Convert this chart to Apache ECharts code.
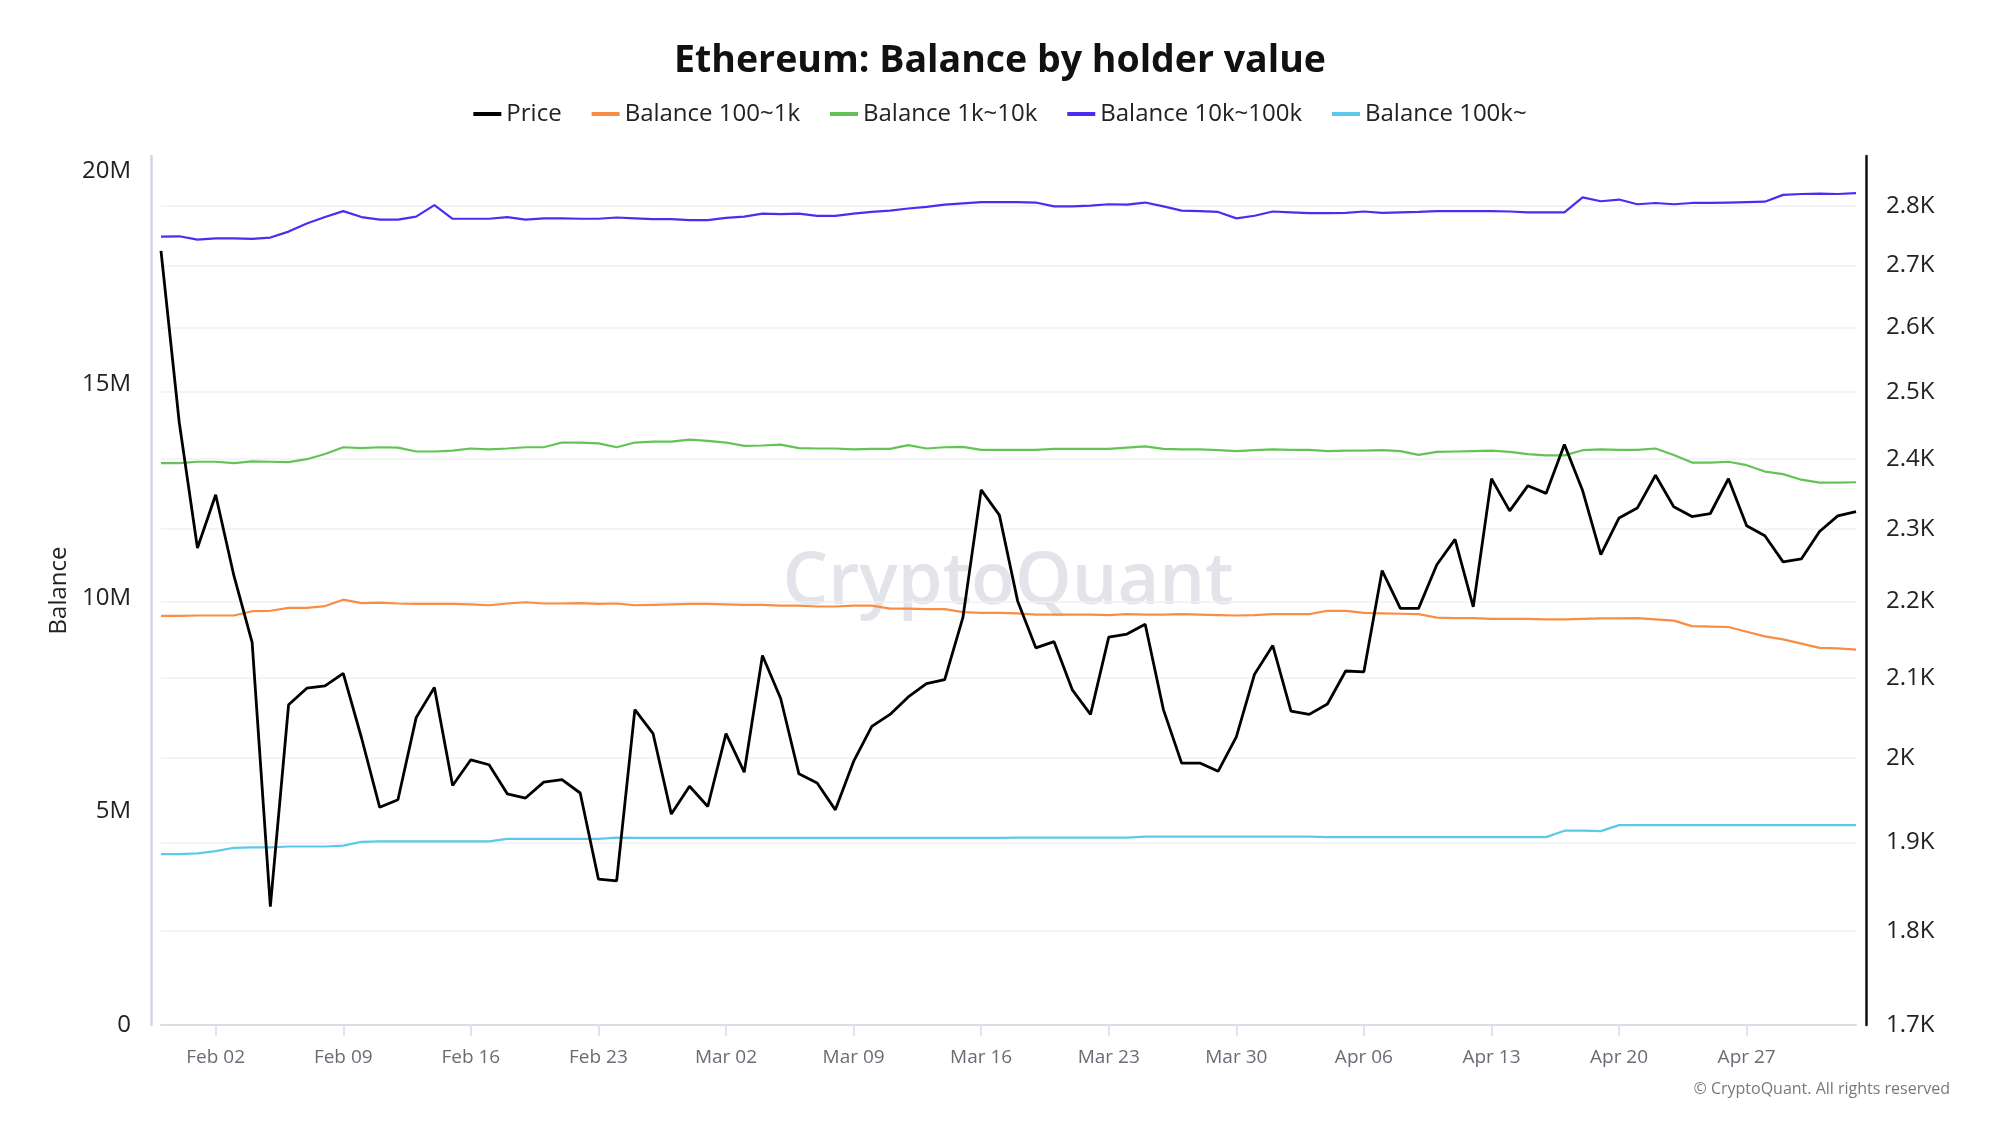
<!DOCTYPE html>
<html>
<head>
<meta charset="utf-8">
<title>Ethereum: Balance by holder value</title>
<script src="https://cdn.jsdelivr.net/npm/echarts@6/dist/echarts.min.js"></script>
<style>
  html, body { margin: 0; padding: 0; background: #fff; }
  #chart { width: 2000px; height: 1125px; }
</style>
</head>
<body>
<div id="chart"></div>
<script>
// daily data, Jan 30 -> May 03
var price = [2724, 2454, 2273, 2348, 2235, 2146, 1827, 2066, 2087, 2090,
  2106, 2025, 1941, 1950, 2050, 2088, 1967, 1998, 1992, 1957,
  1952, 1971, 1974, 1958, 1858, 1856, 2060, 2030, 1933, 1966,
  1942, 2030, 1983, 2129, 2074, 1981, 1970, 1938, 1996, 2039,
  2054, 2076, 2093, 2098, 2179, 2355, 2319, 2201, 2139, 2147,
  2085, 2054, 2153, 2157, 2170, 2060, 1994, 1994, 1984, 2026,
  2105, 2142, 2058, 2054, 2067, 2109, 2108, 2242, 2191, 2191,
  2250, 2285, 2193, 2371, 2325, 2361, 2350, 2421, 2354, 2264,
  2315, 2329, 2376, 2331, 2317, 2321, 2371, 2304, 2290, 2254,
  2258, 2296, 2318, 2324];

// balances in millions
var bal100_1k = [9.58, 9.58, 9.59, 9.59, 9.59, 9.69, 9.70, 9.77, 9.77, 9.81,
  9.96, 9.88, 9.89, 9.87, 9.86, 9.86, 9.86, 9.85, 9.83, 9.87,
  9.90, 9.87, 9.87, 9.88, 9.86, 9.87, 9.83, 9.84, 9.85, 9.86,
  9.86, 9.85, 9.84, 9.84, 9.82, 9.82, 9.80, 9.80, 9.82, 9.82,
  9.75, 9.75, 9.74, 9.74, 9.67, 9.65, 9.65, 9.64, 9.61, 9.61,
  9.61, 9.61, 9.60, 9.62, 9.61, 9.61, 9.62, 9.61, 9.60, 9.59,
  9.60, 9.62, 9.62, 9.62, 9.70, 9.70, 9.65, 9.64, 9.63, 9.62,
  9.54, 9.53, 9.53, 9.51, 9.51, 9.51, 9.50, 9.50, 9.51, 9.52,
  9.52, 9.53, 9.50, 9.47, 9.34, 9.33, 9.32, 9.21, 9.10, 9.03,
  8.93, 8.83, 8.82, 8.79];

var bal1k_10k = [13.16, 13.16, 13.19, 13.19, 13.16, 13.20, 13.19, 13.18, 13.25, 13.37,
  13.53, 13.51, 13.53, 13.52, 13.43, 13.43, 13.45, 13.50, 13.48, 13.50,
  13.53, 13.53, 13.64, 13.64, 13.62, 13.53, 13.64, 13.66, 13.66, 13.71,
  13.68, 13.64, 13.56, 13.57, 13.59, 13.51, 13.50, 13.50, 13.48, 13.49,
  13.49, 13.58, 13.50, 13.53, 13.54, 13.47, 13.47, 13.47, 13.47, 13.49,
  13.49, 13.49, 13.49, 13.52, 13.55, 13.49, 13.48, 13.48, 13.46, 13.44,
  13.46, 13.48, 13.47, 13.47, 13.44, 13.45, 13.45, 13.46, 13.44, 13.35,
  13.42, 13.43, 13.44, 13.45, 13.42, 13.37, 13.34, 13.34, 13.46, 13.48,
  13.47, 13.47, 13.50, 13.35, 13.17, 13.17, 13.19, 13.11, 12.96, 12.90,
  12.77, 12.70, 12.70, 12.71];

var bal10k_100k = [18.46, 18.47, 18.39, 18.42, 18.42, 18.41, 18.44, 18.58, 18.77, 18.92,
  19.06, 18.92, 18.86, 18.86, 18.93, 19.20, 18.88, 18.88, 18.88, 18.92,
  18.86, 18.89, 18.89, 18.88, 18.88, 18.91, 18.89, 18.87, 18.87, 18.85,
  18.85, 18.90, 18.93, 19.00, 18.99, 19.00, 18.95, 18.95, 19.00, 19.04,
  19.07, 19.12, 19.16, 19.21, 19.24, 19.27, 19.27, 19.27, 19.26, 19.17,
  19.17, 19.19, 19.22, 19.21, 19.26, 19.17, 19.07, 19.06, 19.04, 18.89,
  18.95, 19.05, 19.03, 19.01, 19.01, 19.02, 19.05, 19.02, 19.03, 19.04,
  19.06, 19.06, 19.06, 19.06, 19.05, 19.03, 19.03, 19.03, 19.38, 19.29,
  19.33, 19.22, 19.25, 19.22, 19.25, 19.25, 19.26, 19.27, 19.28, 19.44,
  19.46, 19.47, 19.46, 19.48];

var bal100k = [4.00, 4.00, 4.02, 4.07, 4.15, 4.16, 4.16, 4.18, 4.18, 4.18,
  4.20, 4.29, 4.30, 4.30, 4.30, 4.30, 4.30, 4.30, 4.30, 4.36,
  4.36, 4.36, 4.36, 4.36, 4.36, 4.39, 4.38, 4.38, 4.38, 4.38,
  4.38, 4.38, 4.38, 4.38, 4.38, 4.38, 4.38, 4.38, 4.38, 4.38,
  4.38, 4.38, 4.38, 4.38, 4.38, 4.38, 4.38, 4.39, 4.39, 4.39,
  4.39, 4.39, 4.39, 4.39, 4.41, 4.41, 4.41, 4.41, 4.41, 4.41,
  4.41, 4.41, 4.41, 4.41, 4.40, 4.40, 4.40, 4.40, 4.40, 4.40,
  4.40, 4.40, 4.40, 4.40, 4.40, 4.40, 4.40, 4.55, 4.55, 4.54,
  4.68, 4.68, 4.68, 4.68, 4.68, 4.68, 4.68, 4.68, 4.68, 4.68,
  4.68, 4.68, 4.68, 4.68];

var tickDates = ['Feb 02', 'Feb 09', 'Feb 16', 'Feb 23', 'Mar 02', 'Mar 09', 'Mar 16',
  'Mar 23', 'Mar 30', 'Apr 06', 'Apr 13', 'Apr 20', 'Apr 27'];
var balanceTicks = [0, 5, 10, 15, 20];
var priceTicks = [1700, 1800, 1900, 2000, 2100, 2200, 2300, 2400, 2500, 2600, 2700, 2800];

// category labels, one per day starting Jan 30
var monthNames = ['Jan', 'Feb', 'Mar', 'Apr', 'May'];
var dates = [];
var d = new Date(Date.UTC(2025, 0, 30));
while (dates.length < price.length) {
  var day = d.getUTCDate();
  dates.push(monthNames[d.getUTCMonth()] + ' ' + (day < 10 ? '0' + day : day));
  d.setUTCDate(day + 1);
}

var FONT = '"Open Sans", "Noto Sans", sans-serif';

function isTickDate(idx, val) {
  return tickDates.indexOf(val) >= 0;
}

var myChart = echarts.init(document.getElementById('chart'));
var option = {
  animation: false,
  backgroundColor: '#ffffff',
  textStyle: { fontFamily: FONT },
  title: {
    text: 'Ethereum: Balance by holder value',
    left: 'center',
    top: 37,
    textStyle: { fontSize: 37.5, fontWeight: 'bold', color: '#111', fontFamily: FONT }
  },
  legend: {
    top: 97,
    left: 'center',
    icon: 'rect',
    itemWidth: 28,
    itemHeight: 4,
    itemGap: 30,
    textStyle: { fontSize: 24, color: '#222', fontFamily: FONT },
    data: ['Price', 'Balance 100~1k', 'Balance 1k~10k', 'Balance 10k~100k', 'Balance 100k~']
  },
  grid: {
    left: 161,
    right: 144,
    top: 156,
    bottom: 100,
    containLabel: false,
    outerBoundsMode: 'none'
  },
  xAxis: {
    type: 'category',
    boundaryGap: false,
    data: dates,
    axisLine: { lineStyle: { color: '#dcdce6', width: 2 } },
    axisTick: { interval: isTickDate, length: 11, lineStyle: { color: '#e2e2ea', width: 2 } },
    axisLabel: { interval: isTickDate, color: '#6b6b78', fontSize: 19, margin: 23 },
    splitLine: { show: false }
  },
  yAxis: [
    {
      type: 'value',
      position: 'left',
      min: 0,
      max: 20.35,
      offset: 10,
      name: 'Balance',
      nameLocation: 'middle',
      nameGap: 80,
      nameTextStyle: { fontSize: 24, color: '#222' },
      axisLine: { show: true, lineStyle: { color: '#d4d4e4', width: 2.5 } },
      axisTick: { show: false },
      axisLabel: {
        customValues: balanceTicks,
        color: '#222',
        fontSize: 24,
        margin: 20,
        formatter: function (v) { return v === 0 ? '0' : v + 'M'; }
      },
      splitLine: { show: false }
    },
    {
      type: 'log',
      position: 'right',
      min: 1700,
      max: 2886,
      offset: 10,
      axisLine: { show: true, lineStyle: { color: '#111', width: 2.5 } },
      axisTick: { show: false, customValues: priceTicks },
      axisLabel: {
        customValues: priceTicks,
        color: '#222',
        fontSize: 24,
        margin: 20,
        formatter: function (v) { return (v / 1000) + 'K'; }
      },
      splitLine: { show: true, lineStyle: { color: '#f0f0f3', width: 1.5 } }
    }
  ],
  graphic: [
    {
      type: 'text',
      x: 1008,
      y: 583,
      z: 0,
      style: {
        text: 'CryptoQuant',
        fontSize: 72,
        fontWeight: 600,
        fontFamily: FONT,
        fill: '#e3e3ea',
        textAlign: 'center',
        textVerticalAlign: 'middle'
      }
    },
    {
      type: 'text',
      right: 50,
      top: 1081,
      style: {
        text: '\u00a9 CryptoQuant. All rights reserved',
        fontSize: 16,
        fontFamily: FONT,
        fill: '#777782'
      }
    }
  ],
  series: [
    {
      name: 'Price', type: 'line', yAxisIndex: 1, data: price,
      symbol: 'none', z: 5,
      itemStyle: { color: '#000000' },
      lineStyle: { color: '#000000', width: 2.8 }
    },
    {
      name: 'Balance 100~1k', type: 'line', yAxisIndex: 0, data: bal100_1k,
      symbol: 'none',
      itemStyle: { color: '#f98d45' },
      lineStyle: { color: '#f98d45', width: 2.2 }
    },
    {
      name: 'Balance 1k~10k', type: 'line', yAxisIndex: 0, data: bal1k_10k,
      symbol: 'none',
      itemStyle: { color: '#63c455' },
      lineStyle: { color: '#63c455', width: 2.2 }
    },
    {
      name: 'Balance 10k~100k', type: 'line', yAxisIndex: 0, data: bal10k_100k,
      symbol: 'none',
      itemStyle: { color: '#4b2df2' },
      lineStyle: { color: '#4b2df2', width: 2.2 }
    },
    {
      name: 'Balance 100k~', type: 'line', yAxisIndex: 0, data: bal100k,
      symbol: 'none',
      itemStyle: { color: '#5cc9ea' },
      lineStyle: { color: '#5cc9ea', width: 2.2 }
    }
  ]
};
myChart.setOption(option);
</script>
</body>
</html>
